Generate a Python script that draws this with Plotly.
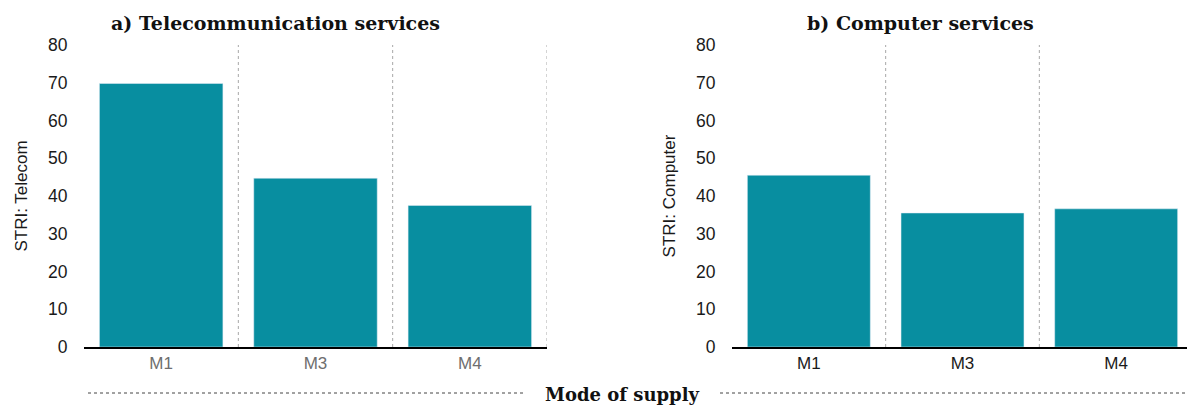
import plotly.graph_objects as go

modes = ["M1", "M3", "M4"]
telecom = [69.8, 44.7, 37.5]
computer = [45.5, 35.5, 36.6]
y_ticks = [0, 10, 20, 30, 40, 50, 60, 70, 80]

# page body has an 8px margin: size the figure to fit the window
OFF = 8
W, H = 1195 - OFF, 406 - OFF
BAR = "#088ea0"

def px_x(p):
    return (p - OFF) / W

def px_y(p):
    return 1 - (p - OFF) / H

fig = go.Figure()
fig.add_trace(go.Bar(x=modes, y=telecom, marker_color=BAR, xaxis="x", yaxis="y",
                     showlegend=False, hoverinfo="x+y"))
fig.add_trace(go.Bar(x=modes, y=computer, marker_color=BAR, xaxis="x2", yaxis="y2",
                     showlegend=False, hoverinfo="x+y"))

SANS = "Liberation Sans, Arial, sans-serif"
ydom = [px_y(347), px_y(45)]
tickfont = dict(family=SANS, size=17.5, color="#1a1a1a")
common_y = dict(range=[0, 80], tickvals=y_ticks, showgrid=False, zeroline=False,
                ticks="outside", ticklen=12, tickcolor="rgba(0,0,0,0)",
                tickfont=tickfont, automargin=False, showline=False)
common_x = dict(showgrid=False, showline=True, linecolor="black", linewidth=2,
                ticks="", automargin=False, range=[-0.5, 2.5])
ytitle_font = dict(family=SANS, size=17, color="#1a1a1a")

fig.update_layout(
    width=W, height=H,
    margin=dict(l=0, r=0, t=0, b=0),
    plot_bgcolor="white", paper_bgcolor="white",
    bargap=0.2,
    xaxis=dict(domain=[px_x(84), px_x(547)], anchor="y",
               tickfont=dict(family=SANS, size=17, color="#6e6e6e"),
               **common_x),
    yaxis=dict(domain=ydom, anchor="x",
               title=dict(text="STRI: Telecom", standoff=16, font=ytitle_font),
               **common_y),
    xaxis2=dict(domain=[px_x(732), px_x(1193)], anchor="y2",
                tickfont=dict(family=SANS, size=17, color="#1a1a1a"),
                **common_x),
    yaxis2=dict(domain=ydom, anchor="x2",
                title=dict(text="STRI: Computer", standoff=16, font=ytitle_font),
                **common_y),
)

shapes = []
for xr, yr in (("x", "y"), ("x2", "y2")):
    for xv in (0.5, 1.5, 2.5):
        shapes.append(dict(type="line", xref=xr, yref=yr + " domain", x0=xv, x1=xv, y0=0, y1=1,
                           line=dict(color="#a8a8a8", width=1, dash="dot"), layer="below"))
# bottom dotted separators around the shared x title
shapes.append(dict(type="line", xref="paper", yref="paper", x0=px_x(88), x1=px_x(525),
                   y0=px_y(393), y1=px_y(393), line=dict(color="#444", width=1, dash="dot")))
shapes.append(dict(type="line", xref="paper", yref="paper", x0=px_x(720), x1=px_x(1190),
                   y0=px_y(393), y1=px_y(393), line=dict(color="#444", width=1, dash="dot")))
fig.update_layout(shapes=shapes)

title_font = dict(family="DejaVu Serif, serif", size=19, color="#111")
fig.add_annotation(text="<b>a) Telecommunication services</b>", xref="paper", yref="paper",
                   x=px_x(275), y=px_y(23), showarrow=False, font=title_font,
                   xanchor="center", yanchor="middle")
fig.add_annotation(text="<b>b) Computer services</b>", xref="paper", yref="paper",
                   x=px_x(920), y=px_y(23), showarrow=False, font=title_font,
                   xanchor="center", yanchor="middle")
fig.add_annotation(text="<b>Mode of supply</b>", xref="paper", yref="paper",
                   x=px_x(622), y=px_y(394), showarrow=False,
                   font=dict(family="DejaVu Serif, serif", size=18, color="#111"),
                   xanchor="center", yanchor="middle")

fig.write_html("out.html")
